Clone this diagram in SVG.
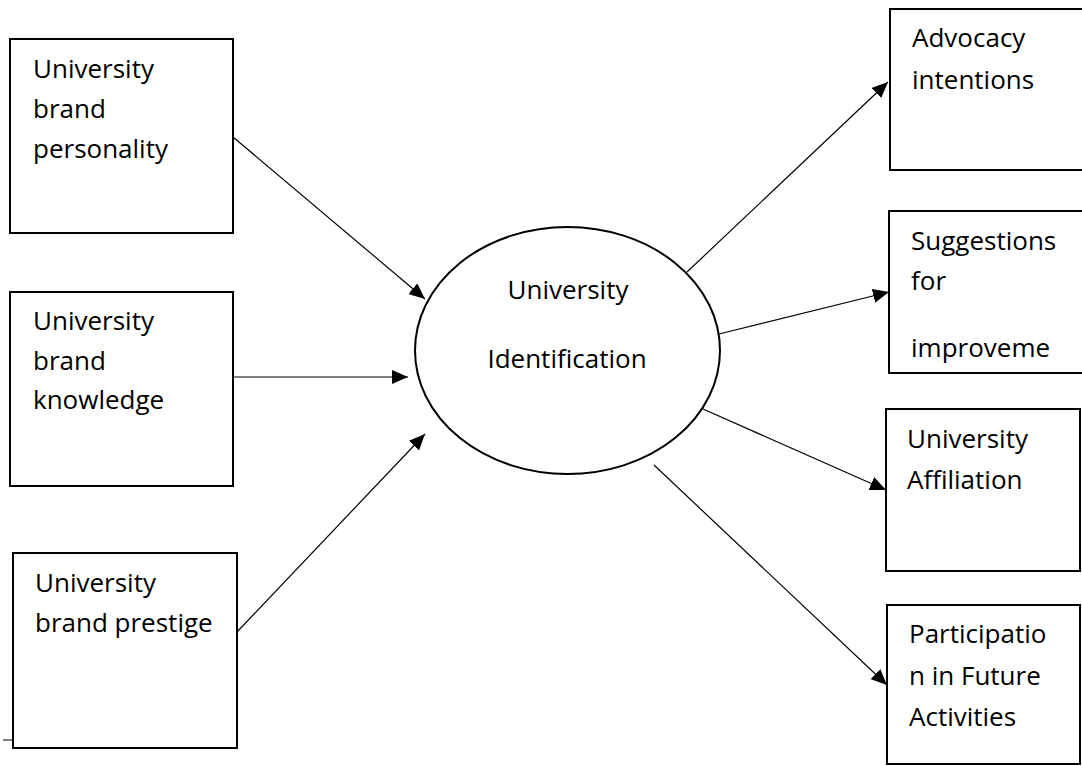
<svg xmlns="http://www.w3.org/2000/svg" width="1082" height="766" viewBox="0 0 1082 766">
<style>
.box{fill:#fff;stroke:#000;stroke-width:2}
.t{font-family:"Open Sans","Liberation Sans",sans-serif;font-size:26px;fill:#000}
.c{stroke:#000;stroke-width:1.2;fill:none;marker-end:url(#ah)}
</style>
<defs>
<marker id="ah" markerUnits="userSpaceOnUse" markerWidth="18" markerHeight="14" refX="16" refY="7" orient="auto">
<path d="M0,0 L16,7 L0,14 Z" fill="#000"/>
</marker>
</defs>
<rect width="1082" height="766" fill="#fff"/>
<g id="connectors">
<line class="c" x1="233" y1="137" x2="425" y2="299"/>
<line class="c" x1="233" y1="377" x2="408" y2="377"/>
<line class="c" x1="237" y1="632" x2="425" y2="434"/>
<line class="c" x1="687" y1="272" x2="888" y2="82"/>
<line class="c" x1="719" y1="334" x2="889" y2="292"/>
<line class="c" x1="703" y1="409" x2="886" y2="490"/>
<line class="c" x1="654" y1="465" x2="887" y2="685"/>
<line x1="3" y1="740" x2="13" y2="740" stroke="#000" stroke-width="1"/>
</g>
<g id="n1"><rect class="box" x="10" y="39" width="223" height="194"/>
<text class="t" x="33" y="78">University</text><text class="t" x="33" y="118">brand</text><text class="t" x="33" y="158">personality</text></g>
<g id="n2"><rect class="box" x="10" y="292" width="223" height="194"/>
<text class="t" x="33" y="330">University</text><text class="t" x="33" y="370">brand</text><text class="t" x="33" y="409">knowledge</text></g>
<g id="n3"><rect class="box" x="13" y="553" width="224" height="195"/>
<text class="t" x="35" y="592">University</text><text class="t" x="35" y="632">brand prestige</text></g>
<g id="center"><ellipse cx="567.5" cy="350.5" rx="152.5" ry="123.5" fill="#fff" stroke="#000" stroke-width="2"/>
<text class="t" x="568" y="299" text-anchor="middle">University</text><text class="t" x="567" y="368" text-anchor="middle">Identification</text></g>
<g id="o1"><rect class="box" x="890" y="9" width="200" height="161"/>
<text class="t" x="912" y="47">Advocacy</text><text class="t" x="912" y="89">intentions</text></g>
<g id="o2"><rect class="box" x="889" y="211" width="200" height="162"/>
<text class="t" x="911" y="250">Suggestions</text><text class="t" x="911" y="290">for</text><text class="t" x="911" y="357">improveme</text></g>
<g id="o3"><rect class="box" x="886" y="409" width="194" height="162"/>
<text class="t" x="907" y="448">University</text><text class="t" x="907" y="489">Affiliation</text></g>
<g id="o4"><rect class="box" x="887" y="605" width="193" height="159"/>
<text class="t" x="909" y="643">Participatio</text><text class="t" x="909" y="685">n in Future</text><text class="t" x="909" y="726">Activities</text></g>
</svg>
